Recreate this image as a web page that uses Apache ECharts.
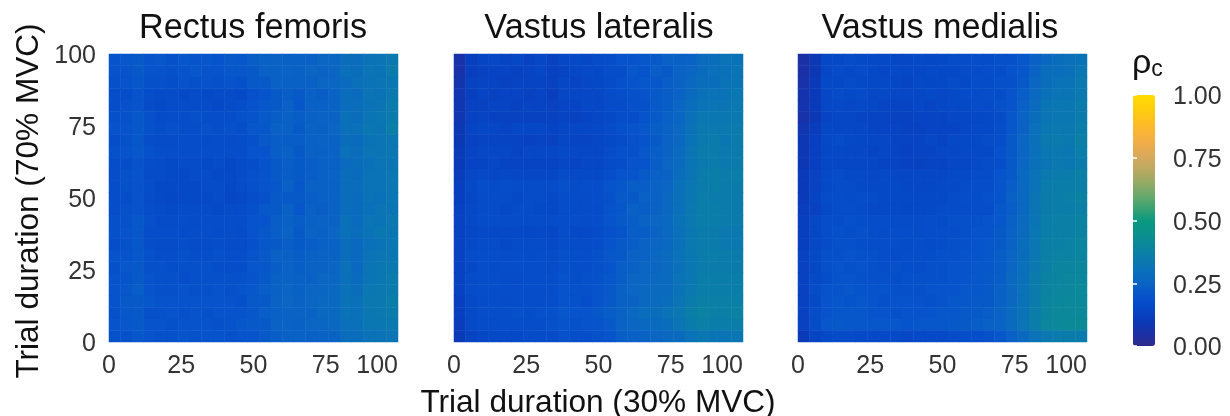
<!DOCTYPE html>
<html><head><meta charset="utf-8">
<style>html,body{margin:0;padding:0;background:#fff}#c{width:1230px;height:416px}</style>
<script src="https://cdn.jsdelivr.net/npm/echarts@6/dist/echarts.min.js"></script>
</head><body><div id="c"></div>
<script>
const panelTitles = ['Rectus femoris','Vastus lateralis','Vastus medialis'];
const xTitle = 'Trial duration (30% MVC)';
const yTitle = 'Trial duration (70% MVC)';
const legendTitle = 'ρ';
const legendSub = 'c';
// rows run from the top of each panel (100) to the bottom (0); values are rho_c x 100
const rectusFemoris = [
[20,21,22,20,21,19,21,20,21,20,22,21,23,24,25,24,24,24,26,26,29,29,31,32,34],
[20,20,22,20,20,19,20,21,20,20,21,21,22,24,24,25,24,26,25,26,30,29,32,31,35],
[19,20,21,19,19,18,20,19,20,19,20,19,22,22,24,24,24,24,26,26,28,30,31,32,33],
[18,18,20,18,17,17,16,17,16,17,17,16,19,20,22,23,22,24,23,25,29,28,32,31,34],
[18,19,20,17,16,17,17,17,17,16,17,18,20,21,22,24,21,24,24,25,29,29,31,32,35],
[19,19,21,19,17,18,18,19,18,18,18,19,20,22,23,24,23,24,25,25,30,29,32,33,35],
[20,20,21,19,18,19,18,18,19,18,19,18,21,21,24,24,22,25,24,26,30,30,33,32,36],
[18,19,21,18,17,17,18,18,17,18,17,18,19,22,23,23,23,24,25,25,29,28,31,32,33],
[19,20,21,19,18,18,18,18,18,18,18,18,20,20,23,24,22,24,24,25,30,29,32,32,33],
[18,18,20,18,17,16,17,17,16,17,16,17,18,20,22,23,22,23,24,24,28,29,30,32,32],
[18,19,20,17,17,16,16,17,17,16,16,17,19,20,22,23,22,23,24,25,29,28,31,31,33],
[18,19,20,18,16,16,16,16,17,17,16,17,19,20,21,24,21,24,24,24,29,29,31,31,33],
[18,18,20,17,16,15,16,16,16,17,15,16,18,19,22,22,22,23,24,25,29,28,31,30,33],
[18,19,20,18,17,16,17,17,17,16,17,17,19,21,22,24,21,24,23,25,29,28,30,32,32],
[19,19,21,19,17,17,18,17,18,18,18,18,20,20,23,24,23,24,25,25,30,28,32,31,34],
[19,20,21,18,18,18,17,18,18,17,18,17,20,21,23,25,22,25,24,26,30,29,31,33,33],
[18,19,21,18,17,17,18,17,17,18,17,17,19,21,22,23,22,23,24,25,29,27,30,31,33],
[20,20,21,19,18,18,19,18,18,19,18,18,20,22,24,24,23,24,25,25,29,27,31,32,33],
[19,21,22,19,19,18,19,19,19,18,18,18,21,21,23,25,23,25,25,26,30,27,32,33,34],
[20,20,22,20,19,19,18,19,19,19,19,19,20,22,24,25,24,24,26,26,30,28,32,33,35],
[20,21,23,20,19,19,20,19,19,20,19,20,21,23,24,26,24,26,26,27,31,29,33,34,35],
[20,22,22,21,20,20,20,20,20,20,20,19,22,22,25,26,25,26,27,27,31,30,34,34,36],
[19,21,22,19,19,20,19,20,19,20,20,20,21,23,24,25,25,25,27,27,31,30,33,34,35],
[20,21,22,20,20,19,20,20,20,19,20,21,22,22,25,25,24,26,26,27,30,30,33,33,34],
[19,19,21,20,19,19,20,19,20,20,19,20,20,22,23,24,24,24,25,25,29,29,31,31,32]];
const vastusLateralis = [
[ 6,12,14,15,14,15,13,15,13,15,16,15,17,18,20,20,21,22,24,24,25,28,29,31,31],
[ 6,12,13,14,14,13,14,15,13,14,15,16,16,18,18,21,20,23,22,25,26,28,30,30,32],
[ 7,13,14,14,13,14,14,14,13,15,14,15,16,17,19,20,21,21,23,25,27,29,29,31,32],
[ 8,12,14,13,14,14,13,14,12,15,15,15,15,17,18,19,20,22,23,25,28,30,31,31,33],
[ 8,13,13,14,14,13,14,14,13,14,14,15,15,17,17,19,19,22,23,26,29,31,32,32,34],
[ 8,13,14,13,13,13,13,13,13,14,13,14,15,16,18,18,20,22,24,26,30,33,33,33,34],
[ 9,14,15,15,14,15,15,15,14,15,15,15,16,17,19,20,21,23,25,27,31,34,34,34,35],
[ 9,13,14,14,14,14,13,14,13,15,14,14,15,16,17,19,20,22,25,27,31,34,35,33,35],
[10,14,15,15,15,14,15,15,15,16,15,15,15,17,19,19,21,23,25,28,32,35,35,34,35],
[10,14,14,15,14,14,14,14,14,15,14,15,15,17,18,20,20,23,26,28,32,34,35,34,35],
[11,15,16,15,16,15,15,15,15,17,16,16,16,18,20,20,22,24,25,29,32,35,36,35,36],
[12,16,18,17,18,17,17,17,17,19,17,18,18,20,21,23,23,25,26,30,33,35,36,35,35],
[12,15,17,17,17,16,17,17,16,18,17,17,18,19,22,22,24,25,27,30,33,36,35,35,35],
[13,16,17,17,16,17,17,16,16,18,17,17,17,20,21,24,23,25,27,30,34,36,36,35,35],
[13,16,17,18,17,17,17,17,17,18,18,17,18,20,22,23,25,26,27,31,34,36,36,35,35],
[13,15,16,16,16,16,15,16,15,18,16,16,17,19,20,23,23,25,27,30,33,35,35,34,34],
[13,16,17,17,16,17,17,17,16,18,17,17,18,20,22,23,25,26,27,30,34,35,35,34,34],
[13,17,18,18,17,18,17,18,17,19,18,18,19,21,22,25,25,27,28,31,33,35,36,35,35],
[13,16,18,17,18,18,18,18,17,19,18,18,19,20,23,24,26,26,28,30,33,35,35,35,35],
[13,17,18,18,17,17,18,18,18,20,18,19,19,21,23,26,26,27,28,31,33,36,36,36,36],
[13,17,18,18,18,18,18,18,18,20,19,19,20,22,24,26,27,28,28,31,34,36,36,36,36],
[12,16,17,18,17,18,18,18,18,20,19,18,20,22,24,25,27,28,29,32,35,37,37,37,37],
[12,16,18,18,18,19,18,19,19,21,20,20,21,23,25,27,29,29,31,33,36,38,37,37,38],
[11,16,17,17,18,18,18,18,19,20,19,20,20,22,25,26,27,28,29,32,35,37,36,36,36],
[10,14,15,16,16,16,17,17,17,19,18,18,19,20,23,24,25,26,27,28,31,33,32,32,33]];
const vastusMedialis = [
[ 5,9,15,16,17,16,16,16,15,15,16,15,16,17,17,18,17,19,19,21,24,27,29,30,31],
[ 5,9,15,17,16,17,16,15,16,15,15,16,16,16,17,17,18,18,20,21,25,29,29,30,33],
[ 6,10,16,16,17,16,16,16,15,14,16,15,16,17,16,18,17,19,19,22,26,29,31,31,34],
[ 7,10,15,17,16,17,15,16,15,15,15,16,15,16,17,17,18,18,20,23,27,30,32,32,34],
[ 7,10,15,16,15,16,15,14,14,14,15,14,15,16,16,17,17,19,20,24,28,32,33,33,35],
[ 6,9,14,15,15,14,14,14,13,13,14,14,14,15,15,15,16,17,21,25,29,32,33,33,35],
[ 8,11,15,15,15,15,14,14,14,13,13,14,14,14,15,16,16,18,21,25,30,33,34,34,36],
[ 9,12,16,17,16,15,15,15,14,14,14,15,14,16,16,16,17,18,22,26,30,34,35,34,37],
[ 9,12,15,16,15,15,14,15,14,13,14,14,15,15,16,16,16,19,22,26,30,33,34,33,36],
[ 9,12,15,15,15,15,15,14,14,13,13,14,14,15,15,16,17,18,22,26,30,32,34,33,35],
[10,13,16,17,16,16,15,16,15,15,15,15,15,16,16,17,17,20,22,27,31,34,35,35,37],
[10,13,16,17,17,16,16,16,16,15,15,15,16,16,17,18,18,20,23,27,31,35,36,36,37],
[10,14,17,18,17,18,17,16,16,16,16,16,16,17,18,18,19,20,24,27,32,35,36,37,38],
[11,13,16,18,18,17,16,16,16,15,16,16,17,17,17,18,18,21,23,27,32,35,36,36,37],
[12,15,18,18,19,18,18,18,17,17,17,18,17,19,19,19,20,21,24,28,32,36,37,37,38],
[12,15,18,19,18,19,18,17,18,18,17,18,18,18,19,20,20,22,25,28,33,36,37,37,38],
[12,15,17,19,19,18,18,18,18,17,18,17,18,19,19,20,21,22,25,29,33,37,37,38,39],
[13,16,19,19,20,19,19,18,17,18,18,18,19,19,20,20,21,23,26,29,33,37,38,38,39],
[13,15,19,20,19,20,19,18,19,18,18,19,19,20,20,21,21,23,26,30,34,37,39,39,40],
[13,16,18,20,20,19,19,19,18,19,19,19,19,20,20,21,22,23,27,30,35,38,39,40,40],
[13,17,20,20,21,20,20,20,19,19,19,20,20,20,21,21,22,24,27,31,35,38,40,40,41],
[13,16,20,21,20,21,20,19,20,20,20,19,20,21,21,22,22,24,27,31,35,39,40,41,41],
[13,17,20,21,21,21,20,20,19,20,20,20,21,21,22,22,23,25,28,31,36,39,41,41,41],
[13,17,21,22,21,21,21,21,21,20,21,21,21,22,22,23,24,25,28,32,36,40,41,42,42],
[10,14,16,17,17,16,16,16,16,15,16,16,16,17,18,18,19,21,24,27,31,34,35,35,35]];
const xTicks = [0,25,50,75,100];
const legendValues = [0,0.25,0.5,0.75,1];
const legendColors = ['#2f2a8a','#1b30a6','#0a3ab8','#0647c6','#0653cb','#0a63c4','#0a70ba','#0b7bac','#0b869c','#0a918c','#0a9a80','#3ca274','#6aa96c','#94aa64','#b9a960','#d6a85e','#ecac4c','#fbb438','#fdc11f','#fecf0c','#ffdc00'];

const panels = [rectusFemoris, vastusLateralis, vastusMedialis];
const lefts = [109, 454, 798];
const titleAnchors = [248, 594, 935];
const W = 289, H = 288, T = 54;
const grids=[], xAxes=[], yAxes=[], series=[], titles=[];
const font='"Liberation Sans", Arial, sans-serif';
const hiddenAxis={axisLine:{show:false},axisTick:{show:false},splitLine:{show:false}};
panels.forEach((rows,p)=>{
  grids.push({left:lefts[p],top:T,width:W,height:H});
  const n=rows.length, cats=rows.map((_,i)=>i), data=[];
  rows.forEach((r,ri)=>r.forEach((v,ci)=>data.push([ci,n-1-ri,v/100])));
  const ix=xAxes.length, iy=yAxes.length;
  xAxes.push({gridIndex:p,type:'category',data:rows[0].map((_,i)=>i),show:false});
  yAxes.push({gridIndex:p,type:'category',data:cats,show:false});
  xAxes.push(Object.assign({gridIndex:p,type:'value',min:xTicks[0],max:xTicks[4],interval:xTicks[1],position:'bottom'},hiddenAxis,{
    axisLabel:{show:true,fontFamily:font,fontSize:25,color:'#333',margin:12,alignMaxLabel:'right',showMinLabel:true,showMaxLabel:true}}));
  series.push({type:'heatmap',xAxisIndex:ix,yAxisIndex:iy,data,progressive:0,silent:true,itemStyle:{borderWidth:0}});
  titles.push({text:panelTitles[p],left:titleAnchors[p],top:7,textAlign:'center',textStyle:{fontFamily:font,fontSize:34.2,fontWeight:'normal',color:'#111'}});
});
// label-only axis for the first panel's y scale
let g=grids.length;
grids.push({left:lefts[0],top:T+2,width:W,height:H});
xAxes.push({gridIndex:g,type:'value',show:false,min:0,max:100});
yAxes.push(Object.assign({gridIndex:g,type:'value',min:xTicks[0],max:xTicks[4],interval:xTicks[1],position:'left'},hiddenAxis,{
  axisLabel:{show:true,fontFamily:font,fontSize:25,color:'#333',margin:13,showMinLabel:true,showMaxLabel:true}}));
// colourbar ticks
g=grids.length;
grids.push({left:1133,top:95,width:22,height:251,z:5});
const legendTicks={min:legendValues[0],max:legendValues[4],interval:legendValues[1]};
xAxes.push({gridIndex:g,type:'value',show:false,min:0,max:1});
['right','left'].forEach(pos=>yAxes.push(Object.assign({gridIndex:g,type:'value',position:pos,z:10},legendTicks,{
  axisLine:{show:false},splitLine:{show:false},
  axisTick:{show:true,inside:true,length:4,lineStyle:{color:'#fff',width:1.5}},axisLabel:{show:false}})));
// colourbar labels
g=grids.length;
grids.push({left:1133,top:97.5,width:22,height:251});
xAxes.push({gridIndex:g,type:'value',show:false,min:0,max:1});
yAxes.push(Object.assign({gridIndex:g,type:'value',position:'right'},legendTicks,hiddenAxis,{
  axisLabel:{show:true,margin:18,fontFamily:font,fontSize:25,color:'#333',formatter:v=>v.toFixed(2),showMinLabel:true,showMaxLabel:true}}));
titles.push({text:xTitle,left:593,top:382,textAlign:'center',textStyle:{fontFamily:font,fontSize:31.6,fontWeight:'normal',color:'#111'}});
titles.push({text:'{a|'+legendTitle+'}{b|'+legendSub+'}',left:1127,top:42,textStyle:{rich:{a:{fontFamily:font,fontSize:34,fontWeight:'normal',color:'#111'},b:{fontFamily:font,fontSize:23,fontWeight:'normal',color:'#111',verticalAlign:'bottom',padding:[8,0,0,0]}}}});
const chart=echarts.init(document.getElementById('c'),null,{renderer:'canvas'});
chart.setOption({animation:false,backgroundColor:'#fff',title:titles,grid:grids,xAxis:xAxes,yAxis:yAxes,series,
  visualMap:{type:'continuous',min:0,max:1,seriesIndex:[0,1,2],calculable:false,realtime:false,orient:'vertical',
    left:1133,top:95,itemWidth:22,itemHeight:251,text:null,showLabel:false,padding:0,z:1,
    inRange:{color:legendColors},textStyle:{color:'rgba(0,0,0,0)',fontSize:1},handleStyle:{opacity:0},indicatorStyle:{opacity:0},hoverLink:false},
  graphic:[{type:'text',rotation:Math.PI/2,x:13,y:201,style:{text:yTitle,font:'31.6px '+font,fill:'#111',textAlign:'center',textVerticalAlign:'top'}}]
});
</script></body></html>
